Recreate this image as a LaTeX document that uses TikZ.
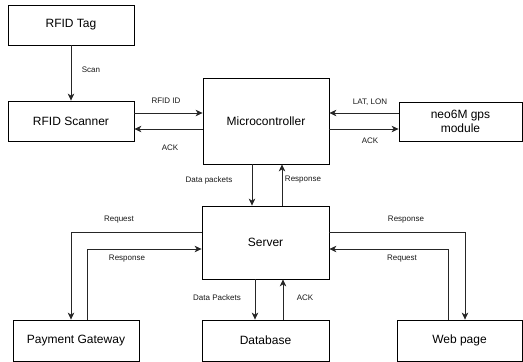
\documentclass[tikz,border=0pt]{standalone}
\usepackage{fontspec}
\setmainfont{Liberation Sans}
\usetikzlibrary{arrows.meta}
\begin{document}
\begin{tikzpicture}[x=1pt,y=-1pt,
  box/.style={draw=black, line width=0.8pt, inner sep=0pt, font=\fontsize{12}{14}\selectfont, align=center},
  conn/.style={draw=black!85, line width=0.8pt, -{Stealth[width=6.5pt,length=7pt,inset=2pt]}},
  lbl/.style={font=\fontsize{8}{9}\selectfont, text=black!90, inner sep=0pt}]
\useasboundingbox (0,0) rectangle (523,362);
\node[box, minimum width=126pt, minimum height=40pt] (tag) at (71,25) {RFID Tag};
\node[box, minimum width=126pt, minimum height=40pt] (scan) at (71,121) {RFID Scanner};
\node[box, minimum width=126pt, minimum height=86pt] (mc) at (266,121) {Microcontroller};
\node[box, minimum width=123pt, minimum height=39pt] (gps) at (460.5,121.5) {neo6M gps\\module};
\node[box, minimum width=127pt, minimum height=73pt] (srv) at (265.5,242.5) {Server};
\node[box, minimum width=126pt, minimum height=41pt] (pay) at (76,340.5) {Payment Gateway};
\node[box, minimum width=127pt, minimum height=41pt] (db) at (265.5,340.5) {Database};
\node[box, minimum width=125pt, minimum height=41pt] (web) at (459.5,340.5) {Web page};

\draw[conn] (tag.south) -- (scan.north);
\node[lbl] at (91,70) {Scan};

\draw[conn] (scan.east |- 0,113) -- (mc.west |- 0,113);
\node[lbl] at (166,101) {RFID ID};
\draw[conn] (mc.west |- 0,129) -- (scan.east |- 0,129);
\node[lbl] at (170,148) {ACK};

\draw[conn] (gps.west |- 0,113) -- (mc.east |- 0,113);
\node[lbl] at (370,102) {LAT, LON};
\draw[conn] (mc.east |- 0,129) -- (gps.west |- 0,129);
\node[lbl] at (370,141) {ACK};

\draw[conn] (mc.south -| 252,0) -- (srv.north -| 252,0);
\node[lbl] at (209,180) {Data packets};
\draw[conn] (srv.north -| 282,0) -- (mc.south -| 282,0);
\node[lbl] at (303,180) {Response};

\draw[conn] (srv.west |- 0,232) -| (pay.north -| 71,0);
\node[lbl] at (119,220) {Request};
\draw[conn] (pay.north -| 87,0) |- (srv.west |- 0,249);
\node[lbl] at (127,259) {Response};

\draw[conn] (srv.south -| 255,0) -- (db.north -| 255,0);
\node[lbl] at (217,298) {Data Packets};
\draw[conn] (db.north -| 283,0) -- (srv.south -| 283,0);
\node[lbl] at (305,298) {ACK};

\draw[conn] (srv.east |- 0,232) -| (web.north -| 465,0);
\node[lbl] at (406,220) {Response};
\draw[conn] (web.north -| 448,0) |- (srv.east |- 0,249);
\node[lbl] at (402,259) {Request};
\end{tikzpicture}
\end{document}
